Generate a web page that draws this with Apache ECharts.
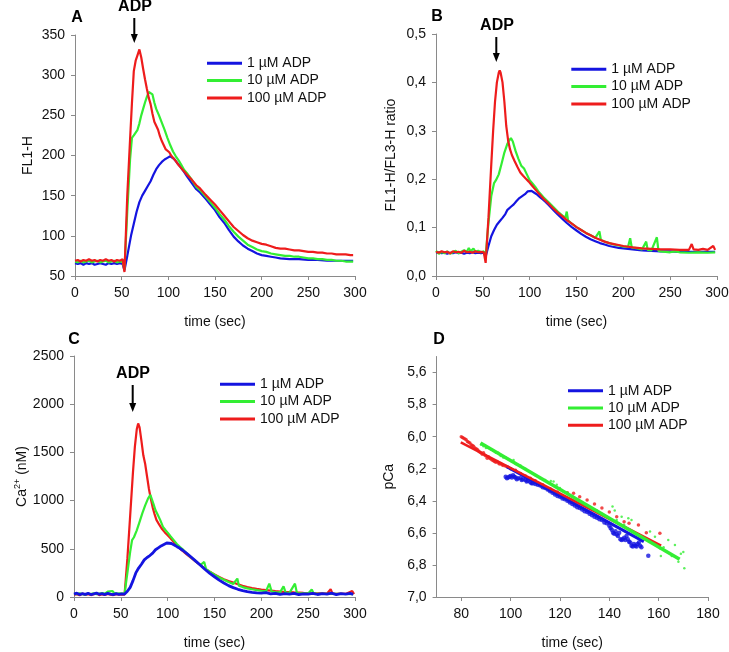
<!DOCTYPE html>
<html><head><meta charset="utf-8">
<script src="https://cdn.jsdelivr.net/npm/echarts@6/dist/echarts.min.js"></script>
<style>html,body{margin:0;padding:0;background:#fff}#c{width:729px;height:652px}</style>
</head><body><div id="c"></div>
<script>
// ---------- DATA ----------
const seriesNames = ['1 µM ADP', '10 µM ADP', '100 µM ADP'];
const xTicksTime = [0, 50, 100, 150, 200, 250, 300];
const xTicksD = [80, 100, 120, 140, 160, 180];
const yTicksD = [5.6, 5.8, 6.0, 6.2, 6.4, 6.6, 6.8, 7.0];

// Panel A: FL1-H
const A_blue = [[0,66],[3,65],[6,66],[9,64],[12,66],[15,65],[18,66],[21,64],[24,65],[27,66],[30,65],[33,64],[36,66],[39,65],[42,66],[45,65],[48,66],[51,65],[53,57],[56,75],[60,100],[63,115],[66,130],[69,142],[72,150],[75,156],[78,162],[81,168],[84,176],[87,183],[90,188],[93,192],[96,195],[99,197],[102,199],[104,197],[106,196],[108,193],[110,190],[113,186],[116,181],[120,174],[125,166],[130,158],[134,154],[140,146],[145,139],[150,132],[155,123],[160,116],[165,107],[170,99],[175,93],[180,88],[185,84],[190,81],[195,78],[200,76],[205,75],[210,74],[215,73],[220,72],[230,71],[240,71],[250,70],[260,70],[270,69],[280,69],[290,69],[298,69]];
const A_green = [[0,68],[3,67],[6,69],[9,67],[12,68],[15,69],[18,67],[21,68],[24,69],[27,67],[30,68],[33,69],[36,67],[39,68],[42,69],[45,67],[48,68],[51,68],[53,58],[56,130],[59,195],[61,222],[63,225],[65,224],[67,232],[69,240],[71,250],[73,258],[75,266],[77,273],[79,279],[81,280],[83,276],[85,266],[87,258],[90,250],[93,241],[96,232],[99,222],[102,213],[105,205],[108,199],[111,194],[114,188],[117,182],[120,178],[125,170],[130,161],[134,157],[140,149],[145,142],[150,135],[155,127],[160,120],[165,112],[170,105],[175,99],[180,94],[185,89],[190,86],[195,83],[200,81],[205,80],[210,78],[215,77],[220,76],[225,75],[230,75],[235,74],[240,74],[245,73],[250,72],[255,72],[260,71],[265,71],[270,70],[275,70],[280,69],[285,69],[290,68],[295,68],[298,68]];
const A_red = [[0,69],[3,70],[6,68],[9,70],[12,69],[15,71],[18,69],[21,70],[24,68],[27,70],[30,69],[33,71],[36,69],[39,70],[42,68],[45,70],[48,69],[51,71],[53,55],[56,150],[59,220],[61,265],[63,305],[65,318],[67,325],[69,332],[71,322],[73,308],[75,295],[77,283],[79,272],[81,264],[83,252],[85,242],[87,237],[89,232],[91,224],[93,218],[95,213],[97,208],[99,209],[101,204],[103,200],[105,198],[108,193],[111,188],[114,184],[117,180],[120,176],[125,170],[130,163],[134,159],[140,151],[145,145],[150,139],[155,132],[160,125],[165,118],[170,111],[175,106],[180,101],[185,97],[190,94],[195,92],[200,90],[205,89],[210,87],[215,85],[220,84],[225,84],[230,83],[235,82],[240,82],[245,81],[250,80],[255,80],[260,79],[265,79],[270,78],[275,78],[280,77],[285,77],[290,77],[295,76],[298,76]];

// Panel B: FL1-H/FL3-H ratio
const B_blue = [[0,0.048],[3,0.049],[6,0.047],[9,0.048],[12,0.046],[15,0.048],[18,0.047],[21,0.049],[24,0.047],[27,0.048],[30,0.046],[33,0.048],[36,0.047],[39,0.049],[42,0.047],[45,0.048],[48,0.047],[51,0.048],[53,0.040],[56,0.062],[59,0.082],[62,0.095],[65,0.106],[68,0.113],[71,0.12],[74,0.128],[76,0.136],[78,0.138],[80,0.143],[83,0.148],[86,0.155],[89,0.161],[92,0.165],[95,0.169],[98,0.175],[100,0.177],[102,0.176],[105,0.172],[108,0.168],[111,0.163],[114,0.158],[117,0.153],[120,0.147],[125,0.137],[130,0.127],[135,0.118],[140,0.109],[145,0.101],[150,0.094],[155,0.087],[160,0.081],[165,0.076],[170,0.072],[175,0.068],[180,0.065],[185,0.062],[190,0.060],[195,0.058],[200,0.057],[210,0.055],[220,0.053],[230,0.052],[240,0.051],[250,0.051],[260,0.050],[270,0.050],[280,0.050],[290,0.050],[298,0.050]];
const B_green = [[0,0.052],[3,0.046],[6,0.050],[9,0.047],[12,0.051],[15,0.046],[18,0.049],[21,0.052],[24,0.047],[27,0.050],[30,0.053],[33,0.050],[35,0.058],[37,0.051],[40,0.057],[42,0.050],[45,0.052],[48,0.049],[51,0.051],[53,0.040],[56,0.11],[59,0.165],[62,0.192],[64,0.198],[67,0.21],[70,0.232],[73,0.255],[76,0.272],[78,0.28],[80,0.285],[82,0.278],[85,0.258],[88,0.242],[91,0.228],[94,0.222],[97,0.210],[100,0.198],[103,0.191],[106,0.184],[110,0.173],[115,0.162],[120,0.153],[125,0.143],[130,0.133],[135,0.125],[138,0.120],[139.6,0.133],[141,0.115],[145,0.108],[150,0.101],[155,0.095],[160,0.089],[165,0.084],[170,0.079],[174.5,0.092],[176,0.075],[180,0.071],[185,0.068],[190,0.065],[195,0.063],[200,0.061],[205,0.060],[207.3,0.078],[209,0.059],[215,0.057],[220,0.055],[224.4,0.071],[226,0.054],[230,0.053],[235.8,0.080],[237.5,0.052],[240,0.051],[250,0.049],[255,0.051],[260,0.049],[270,0.048],[280,0.049],[290,0.048],[298,0.049]];
const B_red = [[0,0.050],[3,0.048],[6,0.051],[9,0.049],[12,0.050],[15,0.047],[18,0.051],[21,0.049],[24,0.050],[27,0.048],[30,0.052],[33,0.049],[36,0.050],[39,0.048],[42,0.051],[45,0.049],[48,0.050],[51,0.049],[53,0.027],[56,0.12],[59,0.23],[61,0.30],[63,0.36],[65,0.40],[67,0.42],[68,0.425],[69,0.42],[71,0.40],[73,0.36],[75,0.31],[77,0.28],[79,0.262],[81,0.25],[84,0.237],[87,0.225],[90,0.214],[93,0.207],[96,0.201],[99,0.195],[102,0.188],[105,0.181],[110,0.170],[115,0.159],[120,0.150],[125,0.140],[130,0.131],[135,0.123],[140,0.115],[145,0.108],[150,0.101],[155,0.095],[160,0.089],[165,0.084],[170,0.079],[175,0.075],[180,0.071],[185,0.068],[190,0.066],[195,0.064],[200,0.062],[210,0.059],[220,0.057],[230,0.056],[240,0.055],[250,0.055],[260,0.054],[270,0.054],[273,0.066],[275,0.055],[280,0.054],[285,0.056],[290,0.054],[296,0.062],[298,0.054]];

// Panel C: Ca2+ (nM)
const C_blue = [[0,30],[3,40],[6,25],[9,35],[12,28],[15,38],[18,25],[21,32],[24,40],[27,28],[30,35],[33,25],[36,38],[39,30],[42,25],[45,35],[48,28],[51,32],[54,30],[57,60],[60,100],[63,170],[66,250],[69,300],[72,340],[75,385],[78,410],[81,430],[84,455],[87,490],[90,510],[93,530],[96,545],[99,560],[101,565],[104,555],[107,540],[110,522],[113,505],[116,485],[120,455],[125,415],[130,372],[135,330],[140,285],[145,245],[150,210],[155,175],[160,145],[165,118],[170,97],[175,80],[180,66],[185,56],[190,48],[195,43],[200,40],[205,45],[210,32],[215,38],[220,28],[225,35],[230,30],[235,38],[240,25],[245,33],[250,30],[255,38],[260,26],[265,34],[270,30],[275,40],[280,25],[285,35],[290,30],[295,38],[298,28]];
const C_green = [[0,35],[3,28],[6,38],[9,30],[12,25],[15,35],[18,30],[21,38],[24,28],[27,35],[30,40],[33,35],[36,55],[38,45],[41,62],[43,40],[46,35],[49,38],[51,30],[54,35],[57,250],[60,470],[62,590],[64,620],[67,692],[70,780],[73,870],[76,950],[79,1020],[81.5,1060],[83,1040],[85,960],[87,900],[89,860],[92,800],[95,728],[98,690],[100,668],[103,630],[106,595],[110,548],[113,520],[116,495],[120,455],[125,412],[130,372],[135,332],[137,320],[139,364],[141,290],[145,262],[150,232],[155,203],[160,178],[165,155],[170,135],[172,130],[174.4,191],[176,118],[180,103],[185,90],[190,80],[195,72],[200,65],[205,60],[208.5,139],[211,56],[215,52],[220,48],[223.7,111],[226,45],[230,43],[235.9,139],[238,41],[245,38],[250,37],[253.8,77],[256,35],[260,34],[270,33],[280,32],[290,31],[298,30]];
const C_red = [[0,25],[3,30],[6,18],[9,35],[12,22],[15,30],[18,20],[21,28],[24,35],[27,20],[30,28],[33,22],[36,32],[39,25],[42,20],[45,30],[48,24],[51,28],[54,25],[57,400],[60,850],[63,1300],[65,1560],[67,1740],[68.5,1800],[70,1760],[72,1620],[74,1470],[76,1380],[78,1250],[80,1120],[82,1020],[84,930],[86,860],[88,800],[91,750],[94,705],[97,670],[100,640],[103,610],[106,575],[110,535],[113,502],[116,478],[120,445],[125,405],[130,368],[135,330],[140,292],[145,262],[150,235],[155,208],[160,185],[165,166],[170,150],[175,132],[180,117],[185,104],[190,93],[195,84],[200,77],[205,72],[210,66],[215,60],[220,56],[225,52],[230,50],[235,47],[240,45],[245,42],[250,40],[255,39],[260,38],[265,37],[270,35],[274,80],[276,35],[280,33],[285,34],[290,32],[297,62],[299,30]];

// Panel D: pCa vs time, scatter + linear fits
const D_blue_pts = [[98,6.25],[98.5,6.26],[99,6.255],[99.5,6.25],[100,6.245],[100.5,6.255],[101,6.24],[101.5,6.25],[102,6.255],[102.5,6.266],[103,6.26],[104,6.26],[104.5,6.27],[105,6.265],[106,6.27],[106.5,6.28],[107,6.275],[108,6.285],[108.5,6.29],[109,6.29],[110,6.295],[111,6.3],[112,6.305],[113,6.315],[114,6.32],[115,6.33],[116,6.34],[117,6.35],[118,6.36],[119,6.37],[120,6.375],[121,6.385],[122,6.39],[123,6.4],[124,6.41],[125,6.42],[126,6.43],[127,6.44],[128,6.445],[129,6.455],[130,6.465],[131,6.47],[132,6.48],[133,6.49],[134,6.5],[135,6.505],[136,6.515],[137,6.52],[138,6.535],[139,6.54],[140,6.555],[140.5,6.57],[141,6.58],[141.5,6.6],[142,6.605],[142.5,6.59],[143,6.61],[143.5,6.62],[144,6.6],[144.5,6.64],[145,6.645],[145.5,6.64],[146,6.63],[146.5,6.645],[147,6.62],[147.5,6.64],[148,6.655],[148.5,6.66],[149,6.68],[149.5,6.685],[150,6.67],[150.5,6.68],[151,6.685],[151.5,6.67],[152,6.66],[152.5,6.68],[153,6.69],[155.8,6.742]];
const D_green_pts = [[88,6.05],[89,6.06],[90,6.07],[91,6.07],[92,6.08],[93,6.09],[94,6.1],[95,6.1],[96,6.12],[97,6.13],[98,6.13],[99,6.14],[100.5,6.155],[101.2,6.145],[102,6.17],[104,6.18],[106,6.2],[108,6.22],[110,6.24],[112,6.26],[114,6.27],[116.3,6.276],[117.4,6.28],[118.7,6.30],[120,6.32],[120.8,6.332],[123,6.35],[125,6.37],[127,6.39],[129,6.41],[131,6.43],[133,6.45],[135,6.46],[137,6.48],[139,6.5],[141.3,6.436],[142.2,6.461],[143,6.52],[145,6.499],[146,6.55],[147.7,6.509],[149,6.52],[150,6.6],[152,6.61],[154,6.63],[156.5,6.592],[158.5,6.624],[160.5,6.696],[160.9,6.744],[162,6.69],[163.9,6.644],[165.3,6.744],[166.6,6.676],[168,6.78],[169,6.73],[170,6.72],[170.4,6.82]];
const D_red_pts = [[80,6.0],[80.5,6.005],[81,6.01],[81.5,6.015],[82,6.02],[82.5,6.03],[83,6.035],[83.5,6.04],[84,6.05],[84.5,6.055],[85,6.06],[85.5,6.07],[86,6.075],[86.5,6.08],[87,6.09],[87.5,6.095],[88,6.1],[88.5,6.11],[89,6.1],[89.5,6.115],[90,6.12],[90.5,6.134],[91,6.125],[91.5,6.135],[92,6.14],[92.5,6.145],[93,6.15],[93.5,6.155],[94,6.16],[94.5,6.155],[95,6.165],[95.5,6.17],[96,6.168],[96.5,6.175],[97,6.18],[98,6.185],[99,6.19],[100,6.2],[102,6.21],[104,6.23],[106,6.245],[108,6.26],[110,6.275],[113,6.3],[116,6.325],[119,6.345],[123,6.35],[125.5,6.353],[128,6.375],[131,6.395],[134,6.42],[137,6.445],[140,6.47],[143,6.499],[146,6.53],[148,6.54],[151.8,6.551],[155,6.6],[160.5,6.603]];
const D_blue_fit = [[98.4,6.187],[154,6.655]];
const D_green_fit = [[87.8,6.04],[168.5,6.765]];
const D_red_fit = [[79.8,6.035],[161,6.68]];

// ---------- CHART ----------
const FONT = '"Liberation Sans", Arial, sans-serif';
const AX = '#8a8a8a';
const TXT = '#111';
const COL = ['#1414e0', '#33ee33', '#ee1c1c'];
const comma = v => v.toFixed(1).replace('.', ',');
const plain = v => String(v);

function gridBox(left, top, width, height) {
  return {left, top, width, height, containLabel: false, outerBoundsMode: 'none'};
}
function axisBase(extra) {
  return Object.assign({
    type: 'value',
    axisLine: {show: true, onZero: false, lineStyle: {color: AX, width: 1}},
    axisTick: {show: true, length: 4, inside: false, lineStyle: {color: AX}},
    splitLine: {show: false},
    axisLabel: {color: TXT, fontSize: 14, fontFamily: FONT, margin: 10, formatter: plain},
    nameTextStyle: {color: TXT, fontSize: 14, fontFamily: FONT},
    nameLocation: 'middle'
  }, extra);
}
function lineSeries(gi, idx, data, z) {
  return {
    type: 'line', name: seriesNames[idx], xAxisIndex: gi, yAxisIndex: gi, data,
    showSymbol: false, symbol: 'none', z: z,
    lineStyle: {width: 2.2, color: COL[idx]}, itemStyle: {color: COL[idx]}
  };
}
function legendAt(left, top, w) {
  return {
    data: seriesNames, orient: 'vertical', left, top, itemWidth: w, itemHeight: 3,
    itemGap: 3.3, icon: 'rect', selectedMode: false, padding: 0,
    textStyle: {fontSize: 14, fontFamily: FONT, color: TXT}
  };
}
function arrow(x, y1, y2) {
  return [
    {type: 'line', shape: {x1: x, y1: y1, x2: x, y2: y2 - 6}, style: {stroke: '#000', lineWidth: 2}},
    {type: 'polygon', shape: {points: [[x - 3.5, y2 - 9], [x + 3.5, y2 - 9], [x, y2]]}, style: {fill: '#000'}}
  ];
}
function label(text, x, y) {
  return {type: 'text', x, y, style: {text, font: 'bold 16px ' + FONT, fill: '#000',
    align: 'center', verticalAlign: 'middle', textAlign: 'center', textVerticalAlign: 'middle'}};
}

const option = {
  animation: false,
  backgroundColor: '#fff',
  grid: [gridBox(75, 35, 280, 241), gridBox(436, 34, 281, 242), gridBox(74, 356, 281, 241), gridBox(436.6, 356.5, 271.4, 240.5)],
  xAxis: [
    axisBase({gridIndex: 0, min: 0, max: 300, interval: 50, name: 'time (sec)', nameGap: 39}),
    axisBase({gridIndex: 1, min: 0, max: 300, interval: 50, name: 'time (sec)', nameGap: 39}),
    axisBase({gridIndex: 2, min: 0, max: 300, interval: 50, name: 'time (sec)', nameGap: 39}),
    axisBase({gridIndex: 3, min: 70, max: 180, name: 'time (sec)', nameGap: 39,
      axisLabel: {color: TXT, fontSize: 14, fontFamily: FONT, margin: 10, formatter: plain, customValues: xTicksD},
      axisTick: {show: true, length: 4, lineStyle: {color: AX}, customValues: xTicksD}})
  ],
  yAxis: [
    axisBase({gridIndex: 0, min: 50, max: 350, interval: 50, name: 'FL1-H', nameGap: 40}),
    axisBase({gridIndex: 1, min: 0, max: 0.5, interval: 0.1, name: 'FL1-H/FL3-H ratio', nameGap: 38,
      axisLabel: {color: TXT, fontSize: 14, fontFamily: FONT, margin: 10, formatter: comma}}),
    axisBase({gridIndex: 2, min: 0, max: 2500, interval: 500, name: '{a|Ca}{s|2+}{a| (nM)}', nameGap: 42,
      nameTextStyle: {color: TXT, fontSize: 14, fontFamily: FONT,
        rich: {a: {fontSize: 14, fontFamily: FONT, color: TXT, lineHeight: 18},
               s: {fontSize: 9, fontFamily: FONT, color: TXT, lineHeight: 9, verticalAlign: 'top'}}}}),
    axisBase({gridIndex: 3, min: 5.5, max: 7.0, inverse: true, name: 'pCa', nameGap: 40,
      axisLabel: {color: TXT, fontSize: 14, fontFamily: FONT, margin: 10, formatter: comma, customValues: yTicksD},
      axisTick: {show: true, length: 4, lineStyle: {color: AX}, customValues: yTicksD}})
  ],
  legend: [legendAt(207, 56.3, 35), legendAt(571.3, 62.3, 35), legendAt(220, 377.3, 35), legendAt(568, 383.7, 35)],
  series: [
    lineSeries(0, 0, A_blue, 2), lineSeries(0, 1, A_green, 3), lineSeries(0, 2, A_red, 4),
    lineSeries(1, 0, B_blue, 2), lineSeries(1, 1, B_green, 3), lineSeries(1, 2, B_red, 4),
    lineSeries(2, 2, C_red, 2), lineSeries(2, 1, C_green, 3),
    Object.assign(lineSeries(2, 0, C_blue, 4), {lineStyle: {width: 2.8, color: COL[0]}}),
    {type: 'scatter', name: seriesNames[0], xAxisIndex: 3, yAxisIndex: 3, data: D_blue_pts, symbolSize: 4.5, itemStyle: {color: COL[0]}, z: 2},
    {type: 'scatter', name: seriesNames[2], xAxisIndex: 3, yAxisIndex: 3, data: D_red_pts, symbolSize: 3.5, itemStyle: {color: COL[2]}, z: 2},
    {type: 'scatter', name: seriesNames[1], xAxisIndex: 3, yAxisIndex: 3, data: D_green_pts, symbolSize: 2.5, itemStyle: {color: COL[1]}, z: 2},
    Object.assign(lineSeries(3, 0, D_blue_fit, 3), {lineStyle: {width: 3, color: COL[0]}}),
    Object.assign(lineSeries(3, 2, D_red_fit, 4), {lineStyle: {width: 2.5, color: COL[2]}}),
    Object.assign(lineSeries(3, 1, D_green_fit, 5), {lineStyle: {width: 3.5, color: COL[1]}})
  ],
  graphic: [
    label('A', 77, 17.5), label('ADP', 135, 7),
    label('B', 437, 17), label('ADP', 497, 26),
    label('C', 74, 340), label('ADP', 133, 374),
    label('D', 439, 340)
  ].concat(arrow(134.3, 18, 43), arrow(496.3, 37, 62), arrow(132.7, 385, 412))
};

const chart = echarts.init(document.getElementById('c'), null, {renderer: 'canvas'});
chart.setOption(option);
</script></body></html>
